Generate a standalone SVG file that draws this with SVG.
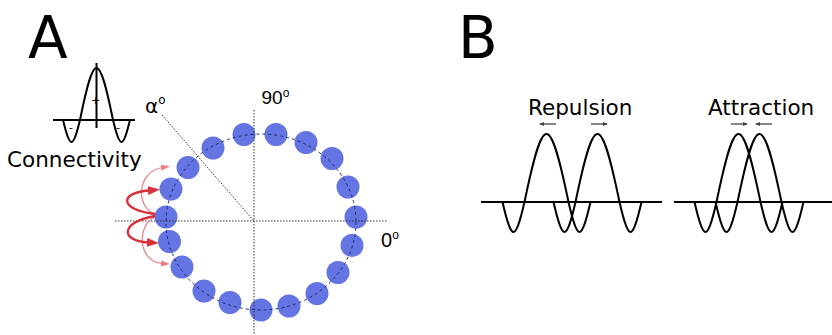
<svg xmlns="http://www.w3.org/2000/svg" xmlns:xlink="http://www.w3.org/1999/xlink" width="832" height="335" viewBox="0 0 832 335">
<style>
text{font-family:"DejaVu Sans","Verdana",sans-serif;fill:#000}
.num{font-family:"Liberation Sans","Arial",sans-serif}
.big{font-size:58px}
.lbl{font-size:21.5px}
.wave{fill:none;stroke:#000;stroke-width:2}
.base{stroke:#000;stroke-width:2}
.node{fill:#6474e2}
.axis{stroke:#333;stroke-width:1;stroke-dasharray:1.5 1.5;fill:none}
.ring{fill:none;stroke:#1e2a6e;stroke-width:1;stroke-dasharray:3 3}
.thick{fill:none;stroke:#d8303b;stroke-width:2.4}
.thin{fill:none;stroke:#ee7d85;stroke-width:1.2}
.sarr{stroke:#444;stroke-width:1.3}
</style>
<defs>
<marker id="hT" viewBox="0 0 12 9" refX="1" refY="4.5" markerWidth="12" markerHeight="9" markerUnits="userSpaceOnUse" orient="auto"><path d="M0,0 L12,4.5 L0,9 z" fill="#d8303b"/></marker>
<marker id="ht" viewBox="0 0 9 6" refX="1" refY="3" markerWidth="9" markerHeight="6" markerUnits="userSpaceOnUse" orient="auto"><path d="M0,0 L9,3 L0,6 z" fill="#ee7d85"/></marker>
<marker id="hs" viewBox="0 0 10 10" refX="8" refY="5" markerWidth="4" markerHeight="4" markerUnits="strokeWidth" orient="auto"><path d="M0,1 L10,5 L0,9 z" fill="#444"/></marker>
<path id="w" d="M-44,202 C-34.7,242 -31.3,242 -22,202 C-3.3,111.3 3.3,111.3 22,202 C31.3,242 34.7,242 44,202"/>
</defs>

<g id="labelA"><text class="big" x="28" y="58">A</text></g>
<g id="labelB"><text class="big" x="458" y="58">B</text></g>

<g id="connectivity">
<line class="base" x1="53" y1="120" x2="135" y2="120" stroke-width="1.6"/>
<line class="base" x1="96.5" y1="63" x2="96.5" y2="128" stroke-width="1.6"/>
<path class="wave" stroke-width="1.6" d="M63,120 C70.2,149.3 72.8,149.3 80,120 C94,50.7 99,50.7 113,120 C120.2,149.3 122.8,149.3 130,120"/>
<text x="91" y="104" font-size="11">+</text>
<text x="69" y="131" font-size="11">-</text>
<text x="116" y="131" font-size="11">-</text>
<text class="lbl" x="7" y="167" font-size="22">Connectivity</text>
</g>

<g id="ring">
<g id="nodes">
<circle class="node" cx="213" cy="148" r="11.5"/>
<circle class="node" cx="244" cy="134.5" r="11.5"/>
<circle class="node" cx="276" cy="134.5" r="11.5"/>
<circle class="node" cx="306" cy="142.5" r="11.5"/>
<circle class="node" cx="332" cy="158.5" r="11.5"/>
<circle class="node" cx="348" cy="187" r="11.5"/>
<circle class="node" cx="356" cy="217" r="11.5"/>
<circle class="node" cx="352" cy="245.5" r="11.5"/>
<circle class="node" cx="338" cy="272.5" r="11.5"/>
<circle class="node" cx="317" cy="293.5" r="11.5"/>
<circle class="node" cx="289" cy="306" r="11.5"/>
<circle class="node" cx="261" cy="310" r="11.5"/>
<circle class="node" cx="230" cy="302.5" r="11.5"/>
<circle class="node" cx="204" cy="291" r="11.5"/>
<circle class="node" cx="182" cy="267" r="11.5"/>
<circle class="node" cx="169.5" cy="241.5" r="11.5"/>
<circle class="node" cx="166" cy="217" r="11.5"/>
<circle class="node" cx="171" cy="189" r="11.5"/>
<circle class="node" cx="188" cy="167.5" r="11.5"/>
</g>
<ellipse class="ring" cx="261" cy="222" rx="95" ry="88"/>
<line class="axis" x1="254" y1="110" x2="254" y2="335"/>
<line class="axis" x1="115" y1="221" x2="388" y2="221"/>
<line class="axis" x1="162" y1="115" x2="254" y2="221" stroke-dasharray="none" stroke="#888" stroke-width="0.8"/>
<text x="145" y="113" font-size="20">α<tspan font-size="12" dy="-9">o</tspan></text>
<text class="num" x="261.5" y="104" font-size="19">90<tspan font-size="12" dy="-7">o</tspan></text>
<text class="num" x="381" y="247" font-size="20">0<tspan font-size="12" dy="-8">o</tspan></text>
</g>

<g id="connectors">
<path class="thin" d="M155,214 C136,208 136,172 162,167.5" marker-end="url(#ht)"/>
<path class="thin" d="M155,217 C136,225 138,262 162,263.5" marker-end="url(#ht)"/>
<path class="thick" d="M155,214 C120,210 118,193 149,190.5" marker-end="url(#hT)"/>
<path class="thick" d="M155,216 C120,222 120,241 148,242.5" marker-end="url(#hT)"/>
</g>

<g id="repulsion">
<text class="lbl" x="528" y="115">Repulsion</text>
<line class="base" x1="481" y1="202" x2="662" y2="202"/>
<use xlink:href="#w" href="#w" class="wave" x="546.5"/>
<use xlink:href="#w" href="#w" class="wave" x="597.5"/>
<line class="sarr" x1="556" y1="124" x2="540" y2="124" marker-end="url(#hs)"/>
<line class="sarr" x1="591" y1="124" x2="607" y2="124" marker-end="url(#hs)"/>
</g>

<g id="attraction">
<text class="lbl" x="708" y="115">Attraction</text>
<line class="base" x1="674" y1="202" x2="832" y2="202"/>
<use xlink:href="#w" href="#w" class="wave" x="738.5"/>
<use xlink:href="#w" href="#w" class="wave" x="759.5"/>
<line class="sarr" x1="731" y1="124" x2="747" y2="124" marker-end="url(#hs)"/>
<line class="sarr" x1="772" y1="124" x2="756" y2="124" marker-end="url(#hs)"/>
</g>
</svg>
